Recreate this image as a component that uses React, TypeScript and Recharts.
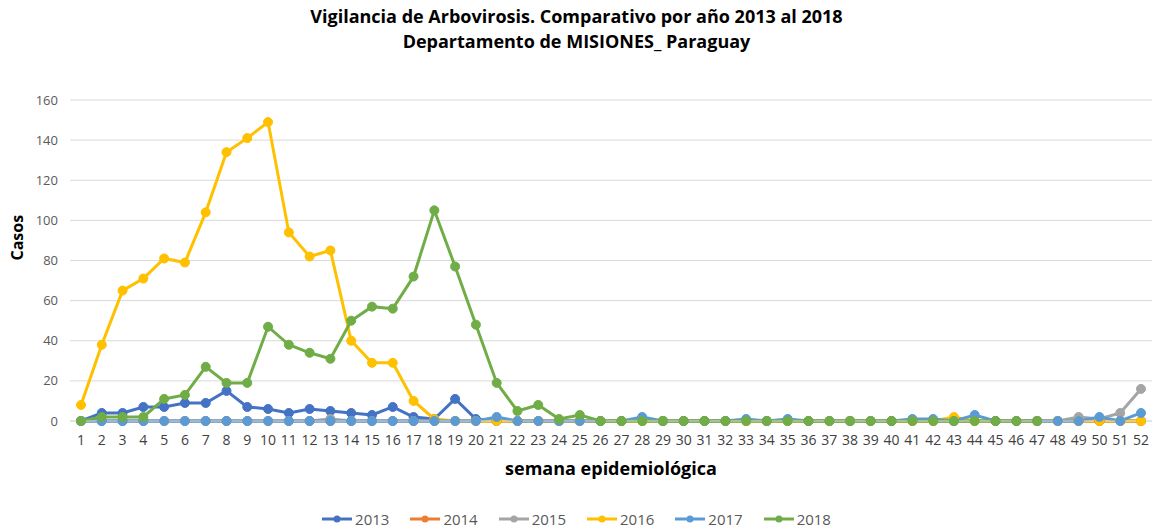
import { CartesianGrid, Legend, Line, LineChart, XAxis, YAxis } from "recharts";

const weeks = Array.from({ length: 52 }, (_, i) => String(i + 1));

const casos2013 = [0, 4, 4, 7, 7, 9, 9, 15, 7, 6, 4, 6, 5, 4, 3, 7, 2, 1, 11, 1, 0, 0, 0, 0, 0, 0, 0, 0, 0, 0, 0, 0, 0, 0, 0, 0, 0, 0, 0, 0, 0, 0, 0, 0, 0, 0, 0, 0, 0, 0, 0, 0];
const casos2014 = [0, 0, 0, 0, 0, 0, 0, 0, 0, 0, 0, 0, 0, 0, 0, 0, 0, 0, 0, 0, 0, 0, 0, 0, 0, 0, 0, 0, 0, 0, 0, 0, 0, 0, 0, 0, 0, 0, 0, 0, 0, 0, 0, 0, 0, 0, 0, 0, 0, 0, 0, 0];
const casos2015 = [0, 0, 0, 0, 0, 0, 0, 0, 0, 0, 0, 0, 1, 0, 0, 0, 0, 0, 0, 0, 0, 0, 0, 0, 0, 0, 0, 0, 0, 0, 0, 0, 0, 0, 0, 0, 0, 0, 0, 0, 0, 0, 0, 0, 0, 0, 0, 0, 2, 1, 4, 16];
const casos2016 = [8, 38, 65, 71, 81, 79, 104, 134, 141, 149, 94, 82, 85, 40, 29, 29, 10, 1, 0, 0, 0, 0, 0, 0, 0, 0, 0, 0, 0, 0, 0, 0, 0, 0, 0, 0, 0, 0, 0, 0, 0, 0, 2, 0, 0, 0, 0, 0, 0, 0, 0, 0];
const casos2017 = [0, 0, 0, 0, 0, 0, 0, 0, 0, 0, 0, 0, 0, 0, 0, 0, 0, 0, 0, 0, 2, 0, 0, 0, 0, 0, 0, 2, 0, 0, 0, 0, 1, 0, 1, 0, 0, 0, 0, 0, 1, 1, 0, 3, 0, 0, 0, 0, 0, 2, 0, 4];
const casos2018 = [0, 2, 2, 2, 11, 13, 27, 19, 19, 47, 38, 34, 31, 50, 57, 56, 72, 105, 77, 48, 19, 5, 8, 1, 3, 0, 0, 0, 0, 0, 0, 0, 0, 0, 0, 0, 0, 0, 0, 0, 0, 0, 0, 0, 0, 0, 0];

const years = ["2013", "2014", "2015", "2016", "2017", "2018"];
const colors = ["#4472C4", "#ED7D31", "#A5A5A5", "#FFC000", "#5B9BD5", "#70AD47"];
const yTicks = [0, 20, 40, 60, 80, 100, 120, 140, 160];

const series = [casos2013, casos2014, casos2015, casos2016, casos2017, casos2018];

const data = weeks.map((w, i) => {
  const row: Record<string, string | number | undefined> = { semana: w };
  years.forEach((y, k) => {
    row[y] = series[k][i];
  });
  return row;
});

const font = "'Open Sans', 'Noto Sans', sans-serif";

function renderLegend() {
  return (
    <div style={{ display: "flex", justifyContent: "center", gap: 21, height: 24, alignItems: "center", fontFamily: font, fontSize: 15, color: "#595959" }}>
      {years.map((y, k) => (
        <div key={y} style={{ display: "flex", alignItems: "center" }}>
          <svg width={30} height={10} style={{ marginRight: 3 }}>
            <line x1={0} y1={5} x2={30} y2={5} stroke={colors[k]} strokeWidth={3} />
            <circle cx={15} cy={5} r={3.5} fill={colors[k]} />
          </svg>
          <span>{y}</span>
        </div>
      ))}
    </div>
  );
}

export default function App() {
  return (
    <div style={{ position: "absolute", left: 0, top: 0, width: 1153, height: 531, background: "#fff", fontFamily: font }}>
      <div style={{ position: "absolute", top: 4, left: 0, width: 1153, textAlign: "center", fontWeight: 700, fontSize: 18, lineHeight: "25px", color: "#000" }}>
        <div>Vigilancia de Arbovirosis. Comparativo por año 2013 al 2018</div>
        <div>Departamento de MISIONES_ Paraguay</div>
      </div>
      <LineChart width={1153} height={531} data={data} margin={{ top: 100, right: 1, bottom: 26, left: 0 }}>
        <CartesianGrid vertical={false} stroke="#D9D9D9" />
        <XAxis
          dataKey="semana"
          interval={0}
          height={60}
          padding={{ left: 11, right: 11 }}
          tickLine={false}
          tickSize={6}
          tickMargin={8}
          stroke="#D9D9D9"
          tick={{ fill: "#404040", fontSize: 14, fontFamily: font }}
          label={{ value: "semana epidemiológica", position: "insideBottom", offset: 6, fill: "#000", fontSize: 18, fontWeight: 700, fontFamily: font }}
        />
        <YAxis
          width={70}
          domain={[0, 160]}
          ticks={yTicks}
          axisLine={false}
          tickLine={false}
          tickSize={0}
          tickMargin={12}
          tick={{ fill: "#595959", fontSize: 13, fontFamily: font }}
          label={{ value: "Casos", angle: -90, position: "insideLeft", offset: 17, fill: "#000", fontSize: 16, fontWeight: 700, fontFamily: font }}
        />
        {years.map((y, k) => (
          <Line
            key={y}
            dataKey={y}
            stroke={colors[k]}
            strokeWidth={3}
            dot={{ r: 4.5, fill: colors[k], stroke: colors[k], strokeWidth: 1 }}
            isAnimationActive={false}
          />
        ))}
        <Legend content={renderLegend} wrapperStyle={{ top: 507, left: 0, width: 1153 }} />
      </LineChart>
    </div>
  );
}
